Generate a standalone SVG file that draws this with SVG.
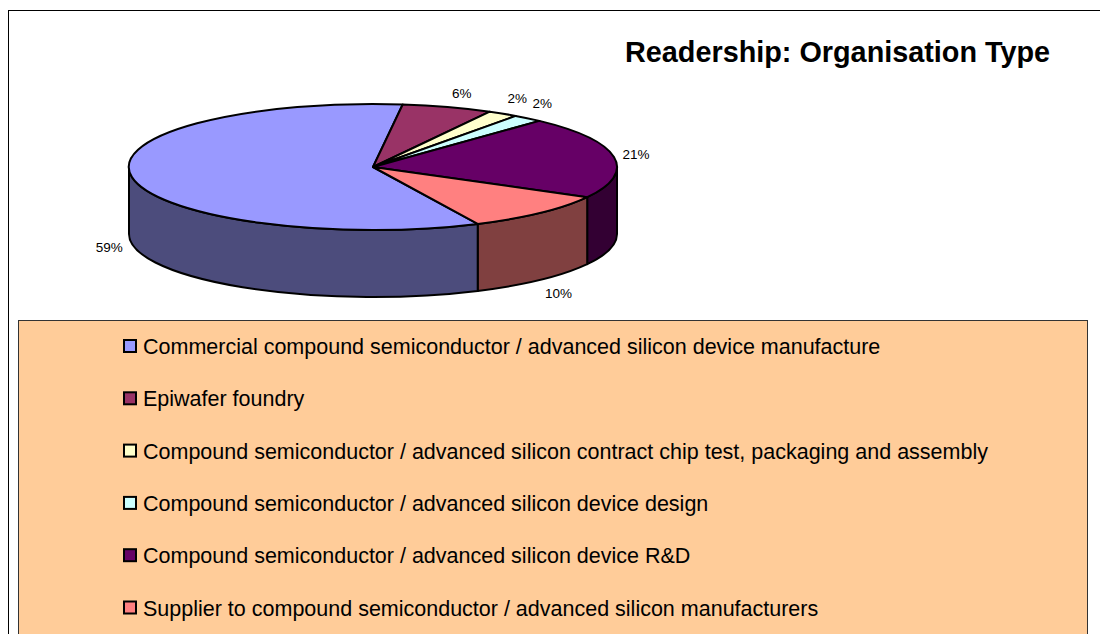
<svg xmlns="http://www.w3.org/2000/svg" width="1100" height="634" viewBox="0 0 1100 634">
<style>
.s{stroke:#000;stroke-width:2;stroke-linejoin:round}
.lbl{font-family:"Liberation Sans",Arial,sans-serif;font-size:13.5px;fill:#000}
.leg{font-family:"Liberation Sans",Arial,sans-serif;font-size:21.5px;fill:#000}
.sq{stroke:#000;stroke-width:2}
</style>
<rect x="0" y="0" width="1100" height="634" fill="#fff"/>
<rect id="frame" x="8.5" y="10.5" width="1100" height="640" fill="#fff" stroke="#000" stroke-width="1"/>
<text id="title" x="625" y="62" font-family="Liberation Sans,Arial,sans-serif" font-size="28.8" font-weight="bold" fill="#000">Readership: Organisation Type</text>
<g id="pie">
<g id="sides">
<path class="s" fill="#330033" d="M617,167 A244,63 0 0,1 587.2,197.2 L587.2,264.2 A244,63 0 0,0 617,234 Z"/>
<path class="s" fill="#804040" d="M587.2,197.2 A244,63 0 0,1 477.7,223.9 L477.7,290.9 A244,63 0 0,0 587.2,264.2 Z"/>
<path class="s" fill="#4C4C7C" d="M477.7,223.9 A244,63 0 0,1 129,167 L129,234 A244,63 0 0,0 477.7,290.9 Z"/>
</g>
<g id="slice-commercial"><path class="s" fill="#9999FF" d="M373,167 L477.7,223.9 A244,63 0 1,1 402.7,104.5 Z"/></g>
<g id="slice-epiwafer"><path class="s" fill="#993366" d="M373,167 L402.7,104.5 A244,63 0 0,1 489.8,111.7 Z"/></g>
<g id="slice-packaging"><path class="s" fill="#FFFFCC" d="M373,167 L489.8,111.7 A244,63 0 0,1 515.7,115.9 Z"/></g>
<g id="slice-design"><path class="s" fill="#CCFFFF" d="M373,167 L515.7,115.9 A244,63 0 0,1 539.4,120.9 Z"/></g>
<g id="slice-rnd"><path class="s" fill="#660066" d="M373,167 L539.4,120.9 A244,63 0 0,1 587.2,197.2 Z"/></g>
<g id="slice-supplier"><path class="s" fill="#FF8080" d="M373,167 L587.2,197.2 A244,63 0 0,1 477.7,223.9 Z"/></g>
</g>
<g id="labels">
<text class="lbl" x="452" y="97.5">6%</text>
<text class="lbl" x="507.5" y="103.3">2%</text>
<text class="lbl" x="532.5" y="108.3">2%</text>
<text class="lbl" x="622.5" y="159.3">21%</text>
<text class="lbl" x="545" y="298.3">10%</text>
<text class="lbl" x="95.7" y="251.7">59%</text>
</g>
<g id="legend">
<rect x="18.5" y="320.5" width="1069" height="330" fill="#FFCC99" stroke="#333" stroke-width="1"/>
<g id="leg1"><rect class="sq" x="124" y="340" width="12" height="12" fill="#9999FF"/><text class="leg" x="143" y="354">Commercial compound semiconductor / advanced silicon device manufacture</text></g>
<g id="leg2"><rect class="sq" x="124" y="392.3" width="12" height="12" fill="#993366"/><text class="leg" x="143" y="406.3">Epiwafer foundry</text></g>
<g id="leg3"><rect class="sq" x="124" y="444.6" width="12" height="12" fill="#FFFFCC"/><text class="leg" x="143" y="458.6">Compound semiconductor / advanced silicon contract chip test, packaging and assembly</text></g>
<g id="leg4"><rect class="sq" x="124" y="496.9" width="12" height="12" fill="#CCFFFF"/><text class="leg" x="143" y="510.9">Compound semiconductor / advanced silicon device design</text></g>
<g id="leg5"><rect class="sq" x="124" y="549.2" width="12" height="12" fill="#660066"/><text class="leg" x="143" y="563.2">Compound semiconductor / advanced silicon device R&amp;D</text></g>
<g id="leg6"><rect class="sq" x="124" y="601.5" width="12" height="12" fill="#FF8080"/><text class="leg" x="143" y="615.5">Supplier to compound semiconductor / advanced silicon manufacturers</text></g>
</g>
</svg>
